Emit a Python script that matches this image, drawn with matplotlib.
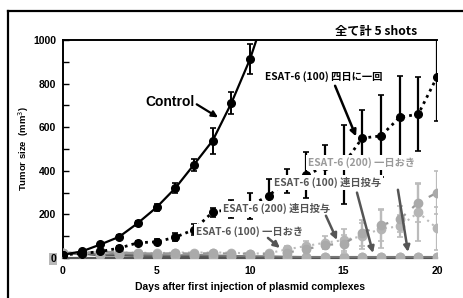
import matplotlib
matplotlib.use("Agg")
import matplotlib.pyplot as plt
from matplotlib.lines import Line2D

# ---------------- data ----------------
days = list(range(21))
control_days = list(range(12))
control = [15, 30, 62, 97, 160, 232, 320, 428, 538, 710, 912, 1170]
control_err = [4, 6, 8, 10, 12, 15, 22, 28, 60, 50, 70, 0]

esat100_4d = [15, 20, 30, 45, 70, 74, 95, 130, 210, 225, 240, 286, 355, 380, 420, 430, 550, 560, 645, 660, 830]
esat100_4d_err = [3, 4, 5, 8, 10, 12, 18, 25, 20, 40, 60, 77, 55, 105, 100, 180, 130, 190, 190, 170, 200]

esat200_daily = [25, 22, 30, 25, 22, 20, 22, 20, 22, 20, 20, 18, 25, 40, 60, 65, 115, 150, 177, 254, 300]
esat200_daily_err = [5, 5, 6, 5, 5, 5, 5, 5, 5, 5, 5, 6, 10, 15, 20, 40, 60, 70, 60, 90, 100]

esat100_alt = [25, 25, 28, 25, 25, 22, 25, 25, 25, 25, 20, 22, 40, 55, 70, 82, 100, 135, 145, 209, 136]
esat100_alt_err = [5, 5, 6, 5, 5, 5, 5, 5, 5, 5, 8, 10, 15, 25, 30, 50, 60, 90, 50, 130, 100]

esat100_daily = [22, 24, 15, 20, 15, 14, 12, 14, 12, 10, 8, 8, 6, 5, 5, 5, 5, 5, 5, 5, 5]
esat200_alt = [20, 20, 12, 12, 10, 10, 8, 8, 6, 6, 5, 4, 3, 3, 3, 3, 3, 3, 3, 3, 3]

yticks = [0, 200, 400, 600, 800, 1000]
xticks = [0, 5, 10, 15, 20]

# ---------------- figure ----------------
W, H = 463, 298
fig = plt.figure(figsize=(W / 100, H / 100), dpi=100)
ax = fig.add_axes([63 / W, 40 / H, 374 / W, 218 / H])

LAT = ["Liberation Sans", "DejaVu Sans"]
CJK = ["Noto Sans CJK JP", "DejaVu Sans"]

# near-zero gray series
ax.plot(days, esat200_alt, color="#555555", lw=1.6, marker="o", ms=6,
        mfc="#aaaaaa", mec="#aaaaaa", zorder=3)
ax.plot(days, esat100_daily, color="#777777", lw=1.4, marker="o", ms=6,
        mfc="#b0b0b0", mec="#b0b0b0", zorder=3)

# growing gray series
ax.errorbar(days, esat100_alt, yerr=esat100_alt_err, color="#bbbbbb", ls=(0, (1, 2)),
            lw=1.5, marker="o", ms=6, mfc="#b5b5b5", mec="#b5b5b5",
            ecolor="#bbbbbb", elinewidth=1.6, capsize=2.5, capthick=1.2, zorder=3)
ax.errorbar(days, esat200_daily, yerr=esat200_daily_err, color="#999999", ls=(0, (5, 4)),
            lw=1.6, marker="o", ms=6, mfc="#aaaaaa", mec="#aaaaaa",
            ecolor="#bbbbbb", elinewidth=1.6, capsize=2.5, capthick=1.2, zorder=3)

# black dotted: ESAT-6 (100) every 4 days
ax.errorbar(days, esat100_4d, yerr=esat100_4d_err, color="black", ls=(0, (1, 1.5)),
            lw=2.0, marker="o", ms=5.5, ecolor="black", elinewidth=1.6,
            capsize=2.5, capthick=1.2, zorder=4)

# control
ax.errorbar(control_days, control, yerr=control_err, color="black", ls="-",
            lw=1.6, marker="o", ms=5.5, ecolor="black", elinewidth=1.4,
            capsize=2.5, capthick=1.2, zorder=5)

ax.set_xlim(0, 20)
ax.set_ylim(0, 1000)
ax.set_yticks(yticks)
ax.set_yticks(range(100, 1000, 200), minor=True)
ax.set_xticks(xticks)
ax.tick_params(axis="y", which="both", direction="in", length=4, width=1.0, pad=5)
ax.tick_params(axis="x", which="both", length=0, pad=6)
for lab in ax.get_yticklabels() + ax.get_xticklabels():
    lab.set_fontfamily(LAT)
    lab.set_fontweight("bold")
    lab.set_fontsize(7.5)
ax.get_yticklabels()[0].set_bbox(dict(facecolor="#b8b8b8", edgecolor="none", pad=1.0))

ax.spines["right"].set_visible(False)
ax.spines["top"].set_linewidth(1.4)
ax.spines["left"].set_linewidth(1.4)
ax.spines["bottom"].set_color("#555555")
ax.spines["bottom"].set_linewidth(1.6)

ax.set_ylabel("Tumor size  (mm$^3$)", fontsize=6.8, fontweight="bold",
              fontfamily=LAT)
ax.yaxis.set_label_coords(-(63 - 31) / 374, 0.5)
ax.set_xlabel("Days after first injection of plasmid complexes", fontsize=7.5,
              fontweight="bold", fontfamily=LAT, labelpad=4)

# ---------------- annotations ----------------
wbox = dict(facecolor="white", edgecolor="none", pad=1.6)
FS = 7.4

ax.text(7.06, 714, "Control", ha="right", va="center", fontsize=10,
        fontweight="bold", fontfamily=LAT, zorder=10)
ax.annotate("", xy=(8.29, 645), xytext=(7.15, 705),
            arrowprops=dict(arrowstyle="-|>", color="black", lw=1.6,
                            mutation_scale=9, shrinkA=0, shrinkB=0), zorder=10)

ax.text(10.8, 834, "ESAT-6 (100) 四日に一回", ha="left", va="center", fontsize=FS,
        fontweight="bold", fontfamily=CJK, color="black", bbox=wbox, zorder=10)
ax.annotate("", xy=(15.67, 558), xytext=(14.55, 790),
            arrowprops=dict(arrowstyle="-|>", color="black", lw=1.8,
                            mutation_scale=9, shrinkA=0, shrinkB=0), zorder=10)

ax.text(13.1, 438, "ESAT-6 (200) 一日おき", ha="left", va="center", fontsize=FS,
        fontweight="bold", fontfamily=CJK, color="#9a9a9a", bbox=wbox, zorder=10)
ax.text(11.28, 346, "ESAT-6 (100) 連日投与", ha="left", va="center", fontsize=FS,
        fontweight="bold", fontfamily=CJK, color="#555555", bbox=wbox, zorder=10)
ax.text(8.56, 226, "ESAT-6 (200) 連日投与", ha="left", va="center", fontsize=FS,
        fontweight="bold", fontfamily=CJK, color="#555555", bbox=wbox, zorder=10)
ax.text(12.83, 120, "ESAT-6 (100) 一日おき", ha="right", va="center", fontsize=FS,
        fontweight="bold", fontfamily=CJK, color="#555555", bbox=wbox, zorder=10)

garrow = dict(arrowstyle="-|>", color="#555555", lw=1.8, mutation_scale=9,
              shrinkA=0, shrinkB=0)
ax.annotate("", xy=(18.45, 28), xytext=(17.91, 313), arrowprops=garrow, zorder=10)
ax.annotate("", xy=(16.58, 23), xytext=(15.72, 300), arrowprops=garrow, zorder=10)
ax.annotate("", xy=(14.65, 83), xytext=(14.06, 194), arrowprops=garrow, zorder=10)
ax.annotate("", xy=(11.6, 46), xytext=(10.96, 92), arrowprops=garrow, zorder=10)

fig.text(335 / W, 1 - 32 / H, "全て計 5 shots", ha="left", va="center", fontsize=8.8,
         fontweight="bold", fontfamily=CJK)

# outer frame (left and top edges visible)
fig.add_artist(Line2D([8 / W, 8 / W], [0, 1 - 11 / H], color="black", lw=1.6))
fig.add_artist(Line2D([8 / W, 1], [1 - 11 / H, 1 - 11 / H], color="black", lw=1.6))

fig.savefig("out.png", dpi=100)
